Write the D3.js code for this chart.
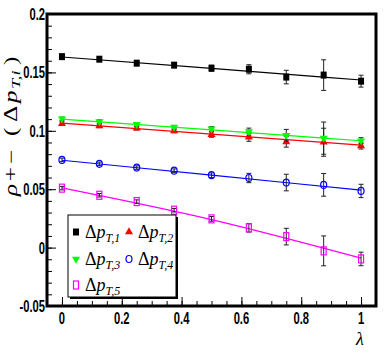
<!DOCTYPE html>
<html>
<head>
<meta charset="utf-8">
<script src="https://cdn.jsdelivr.net/npm/d3@7"></script>
<style>
body { margin: 0; background: #fff; }
.tickLab { font-family: "Liberation Sans", Arial, sans-serif; font-weight: bold; font-size: 16px; fill: #000; }
.latex { font-family: "Liberation Serif", "Times New Roman", serif; font-style: italic; fill: #000; }
</style>
</head>
<body>
<svg id="chart" width="392" height="354"></svg>
<script>
// lambda values of the points
var lambdas = [0, 0.125, 0.25, 0.375, 0.5, 0.625, 0.75, 0.875, 1];

// rho+- for each delta pT bin
var dpt1 = [0.1635, 0.1613, 0.1579, 0.1562, 0.1536, 0.1527, 0.1460, 0.1477, 0.1425];
var dpt1Err = [0.0015, 0.0015, 0.0015, 0.0018, 0.0025, 0.0039, 0.0058, 0.0131, 0.0051];
var dpt2 = [0.1062, 0.1042, 0.1022, 0.0999, 0.0967, 0.0945, 0.0905, 0.0902, 0.0870];
var dpt2Err = [0.0015, 0.0015, 0.0015, 0.0015, 0.0022, 0.0035, 0.0045, 0.0120, 0.0026];
var dpt3 = [0.1102, 0.1079, 0.1056, 0.1031, 0.1016, 0.0993, 0.0962, 0.0937, 0.0915];
var dpt3Err = [0.0015, 0.0015, 0.0015, 0.0015, 0.0020, 0.0030, 0.0050, 0.0138, 0.0026];
var dpt4 = [0.0751, 0.0717, 0.0685, 0.0659, 0.0620, 0.0596, 0.0557, 0.0537, 0.0485];
var dpt4Err = [0.0015, 0.0015, 0.0015, 0.0015, 0.0020, 0.0040, 0.0071, 0.0097, 0.0057];
var dpt5 = [0.0509, 0.0448, 0.0394, 0.0320, 0.0246, 0.0169, 0.0094, -0.0028, -0.0097];
var dpt5Err = [0.0015, 0.0015, 0.0015, 0.0015, 0.0020, 0.0036, 0.0071, 0.0128, 0.0058];

// fitted curves, sampled at lambda = 0, 0.5, 1
var fitLambdas = [0, 0.5, 1];
var fit1 = [0.1632, 0.1534, 0.1435];
var fit2 = [0.1065, 0.0972, 0.0878];
var fit3 = [0.1100, 0.1008, 0.0915];
var fit4 = [0.0748, 0.0620, 0.0492];
var fit5 = [0.0512, 0.0240, -0.0090];

var seriesSub = ["T,1", "T,2", "T,3", "T,4", "T,5"];
var seriesColors = ["#000000", "#ff0000", "#00ff00", "#0000ff", "#ff00ff"];

var yTickValues = [-0.05, 0, 0.05, 0.1, 0.15, 0.2];
var yTickLabels = ["-0.05", "0", "0.05", "0.1", "0.15", "0.2"];
var xTickValues = [0, 0.2, 0.4, 0.6, 0.8, 1];
var xTickLabels = ["0", "0.2", "0.4", "0.6", "0.8", "1"];

var svg = d3.select("#chart");

var x = d3.scaleLinear().domain([-0.05, 1.05]).range([47, 376]);
var y = d3.scaleLinear().domain([-0.05, 0.2]).range([306, 14]);

// ticks, drawn inward
var yMinor = d3.range(-0.05, 0.2001, 0.01);
var xMinor = d3.range(-0.05, 1.0501, 0.05);

svg.append("g").attr("transform", "translate(47,0)")
    .call(d3.axisLeft(y).tickValues(yMinor).tickSize(-5).tickFormat(""));
svg.append("g").attr("transform", "translate(47,0)")
    .call(d3.axisLeft(y).tickValues(yTickValues).tickSize(-9).tickFormat(""));
svg.append("g").attr("transform", "translate(0,306)")
    .call(d3.axisBottom(x).tickValues(xMinor).tickSize(-5).tickFormat(""));
svg.append("g").attr("transform", "translate(0,306)")
    .call(d3.axisBottom(x).tickValues(xTickValues).tickSize(-9).tickFormat(""));
svg.selectAll(".domain").remove();
svg.selectAll(".tick line").attr("stroke", "#000").attr("stroke-width", 1);

// tick labels (narrow bold helvetica look)
yTickValues.forEach(function(v, i) {
  svg.append("text").attr("class", "tickLab")
    .attr("text-anchor", "end")
    .attr("transform", "translate(45," + (y(v) + 6) + ") scale(0.7,1)")
    .text(yTickLabels[i]);
});
xTickValues.forEach(function(v, i) {
  svg.append("text").attr("class", "tickLab")
    .attr("text-anchor", "middle")
    .attr("transform", "translate(" + x(v) + ",324) scale(0.7,1)")
    .text(xTickLabels[i]);
});

// frame
svg.append("rect")
  .attr("x", 47).attr("y", 14).attr("width", 329).attr("height", 292)
  .attr("fill", "none").attr("stroke", "#000").attr("stroke-width", 3);

var series = [
  { vals: dpt1, err: dpt1Err, fit: fit1, marker: "square" },
  { vals: dpt2, err: dpt2Err, fit: fit2, marker: "triUp" },
  { vals: dpt3, err: dpt3Err, fit: fit3, marker: "triDown" },
  { vals: dpt4, err: dpt4Err, fit: fit4, marker: "circle" },
  { vals: dpt5, err: dpt5Err, fit: fit5, marker: "openSquare" }
];

function drawMarker(g, type, cx, cy, color)
{
  if (type == "square") {
    g.append("rect").attr("x", cx - 3).attr("y", cy - 3.5)
      .attr("width", 6).attr("height", 7).attr("fill", color);
  } else if (type == "triUp") {
    g.append("path").attr("d", d3.symbol(d3.symbolTriangle, 28)())
      .attr("transform", "translate(" + cx + "," + cy + ")").attr("fill", color);
  } else if (type == "triDown") {
    g.append("path").attr("d", d3.symbol(d3.symbolTriangle, 28)())
      .attr("transform", "translate(" + cx + "," + cy + ") rotate(180)").attr("fill", color);
  } else if (type == "circle") {
    g.append("ellipse").attr("cx", cx).attr("cy", cy).attr("rx", 3).attr("ry", 3.5)
      .attr("fill", "none").attr("stroke", color).attr("stroke-width", 1.2);
  } else {
    g.append("rect").attr("x", cx - 2.5).attr("y", cy - 4)
      .attr("width", 5).attr("height", 8)
      .attr("fill", "none").attr("stroke", color).attr("stroke-width", 1.2);
  }
}

var line = d3.line().curve(d3.curveNatural)
  .x(function(d) { return x(d[0]); })
  .y(function(d) { return y(d[1]); });

var plot = svg.append("g").attr("id", "plot");

// fit lines
series.forEach(function(s, k) {
  plot.append("path")
    .attr("d", line(fitLambdas.map(function(l, i) { return [l, s.fit[i]]; })))
    .attr("fill", "none")
    .attr("stroke", seriesColors[k])
    .attr("stroke-width", 1.2);
});

// error bars + markers
series.forEach(function(s, k) {
  var g = plot.append("g");
  lambdas.forEach(function(l, i) {
    var cx = x(l), y0 = y(s.vals[i] - s.err[i]), y1 = y(s.vals[i] + s.err[i]);
    g.append("line").attr("x1", cx).attr("x2", cx).attr("y1", y0).attr("y2", y1)
      .attr("stroke", "#222").attr("stroke-width", 1);
    [y0, y1].forEach(function(yy) {
      g.append("line").attr("x1", cx - 2.5).attr("x2", cx + 2.5).attr("y1", yy).attr("y2", yy)
        .attr("stroke", "#222").attr("stroke-width", 1);
    });
  });
  lambdas.forEach(function(l, i) {
    drawMarker(g, s.marker, x(l), y(s.vals[i]), seriesColors[k]);
  });
});

// legend
var legend = svg.append("g").attr("id", "legend");
legend.append("rect").attr("x", 70).attr("y", 217).attr("width", 108).attr("height", 82).attr("fill", "#000");
legend.append("rect").attr("x", 68).attr("y", 215).attr("width", 108).attr("height", 82)
  .attr("fill", "#fff").attr("stroke", "#000").attr("stroke-width", 1);

var legPos = [[76, 232], [129, 232], [76, 259], [129, 259], [76, 285]];
series.forEach(function(s, k) {
  drawMarker(legend, s.marker, legPos[k][0], legPos[k][1], seriesColors[k]);
  var t = legend.append("text").attr("class", "latex")
    .attr("x", legPos[k][0] + 9).attr("y", legPos[k][1] + 6)
    .style("font-size", "18px");
  t.append("tspan").style("font-style", "normal").text("Δ");
  t.append("tspan").text("p");
  t.append("tspan").style("font-size", "12px").attr("dy", 4).text(seriesSub[k]);
});

// axis titles
svg.append("text").attr("class", "latex")
  .attr("x", 360).attr("y", 345)
  .attr("text-anchor", "middle")
  .style("font-size", "18px")
  .text("λ");

// y title, built left to right (bottom to top once rotated), stretched along its length
var yt = svg.append("text").attr("class", "latex")
  .attr("transform", "translate(17,196) rotate(-90) scale(1.4,1)")
  .style("font-size", "18px");
yt.append("tspan").text("ρ");
yt.append("tspan").style("font-style", "normal").attr("dx", 2).text("+");
yt.append("tspan").style("font-style", "normal").attr("dx", 2).text("−");
yt.append("tspan").style("font-style", "normal").attr("dx", 10).text("(");
yt.append("tspan").style("font-style", "normal").attr("dx", 4).text("Δ");
yt.append("tspan").attr("dx", 2).text("p");
yt.append("tspan").style("font-size", "13px").attr("dy", 3).attr("dx", 1).text("T,i");
yt.append("tspan").style("font-style", "normal").attr("dy", -3).attr("dx", 4).text(")");
</script>
</body>
</html>
